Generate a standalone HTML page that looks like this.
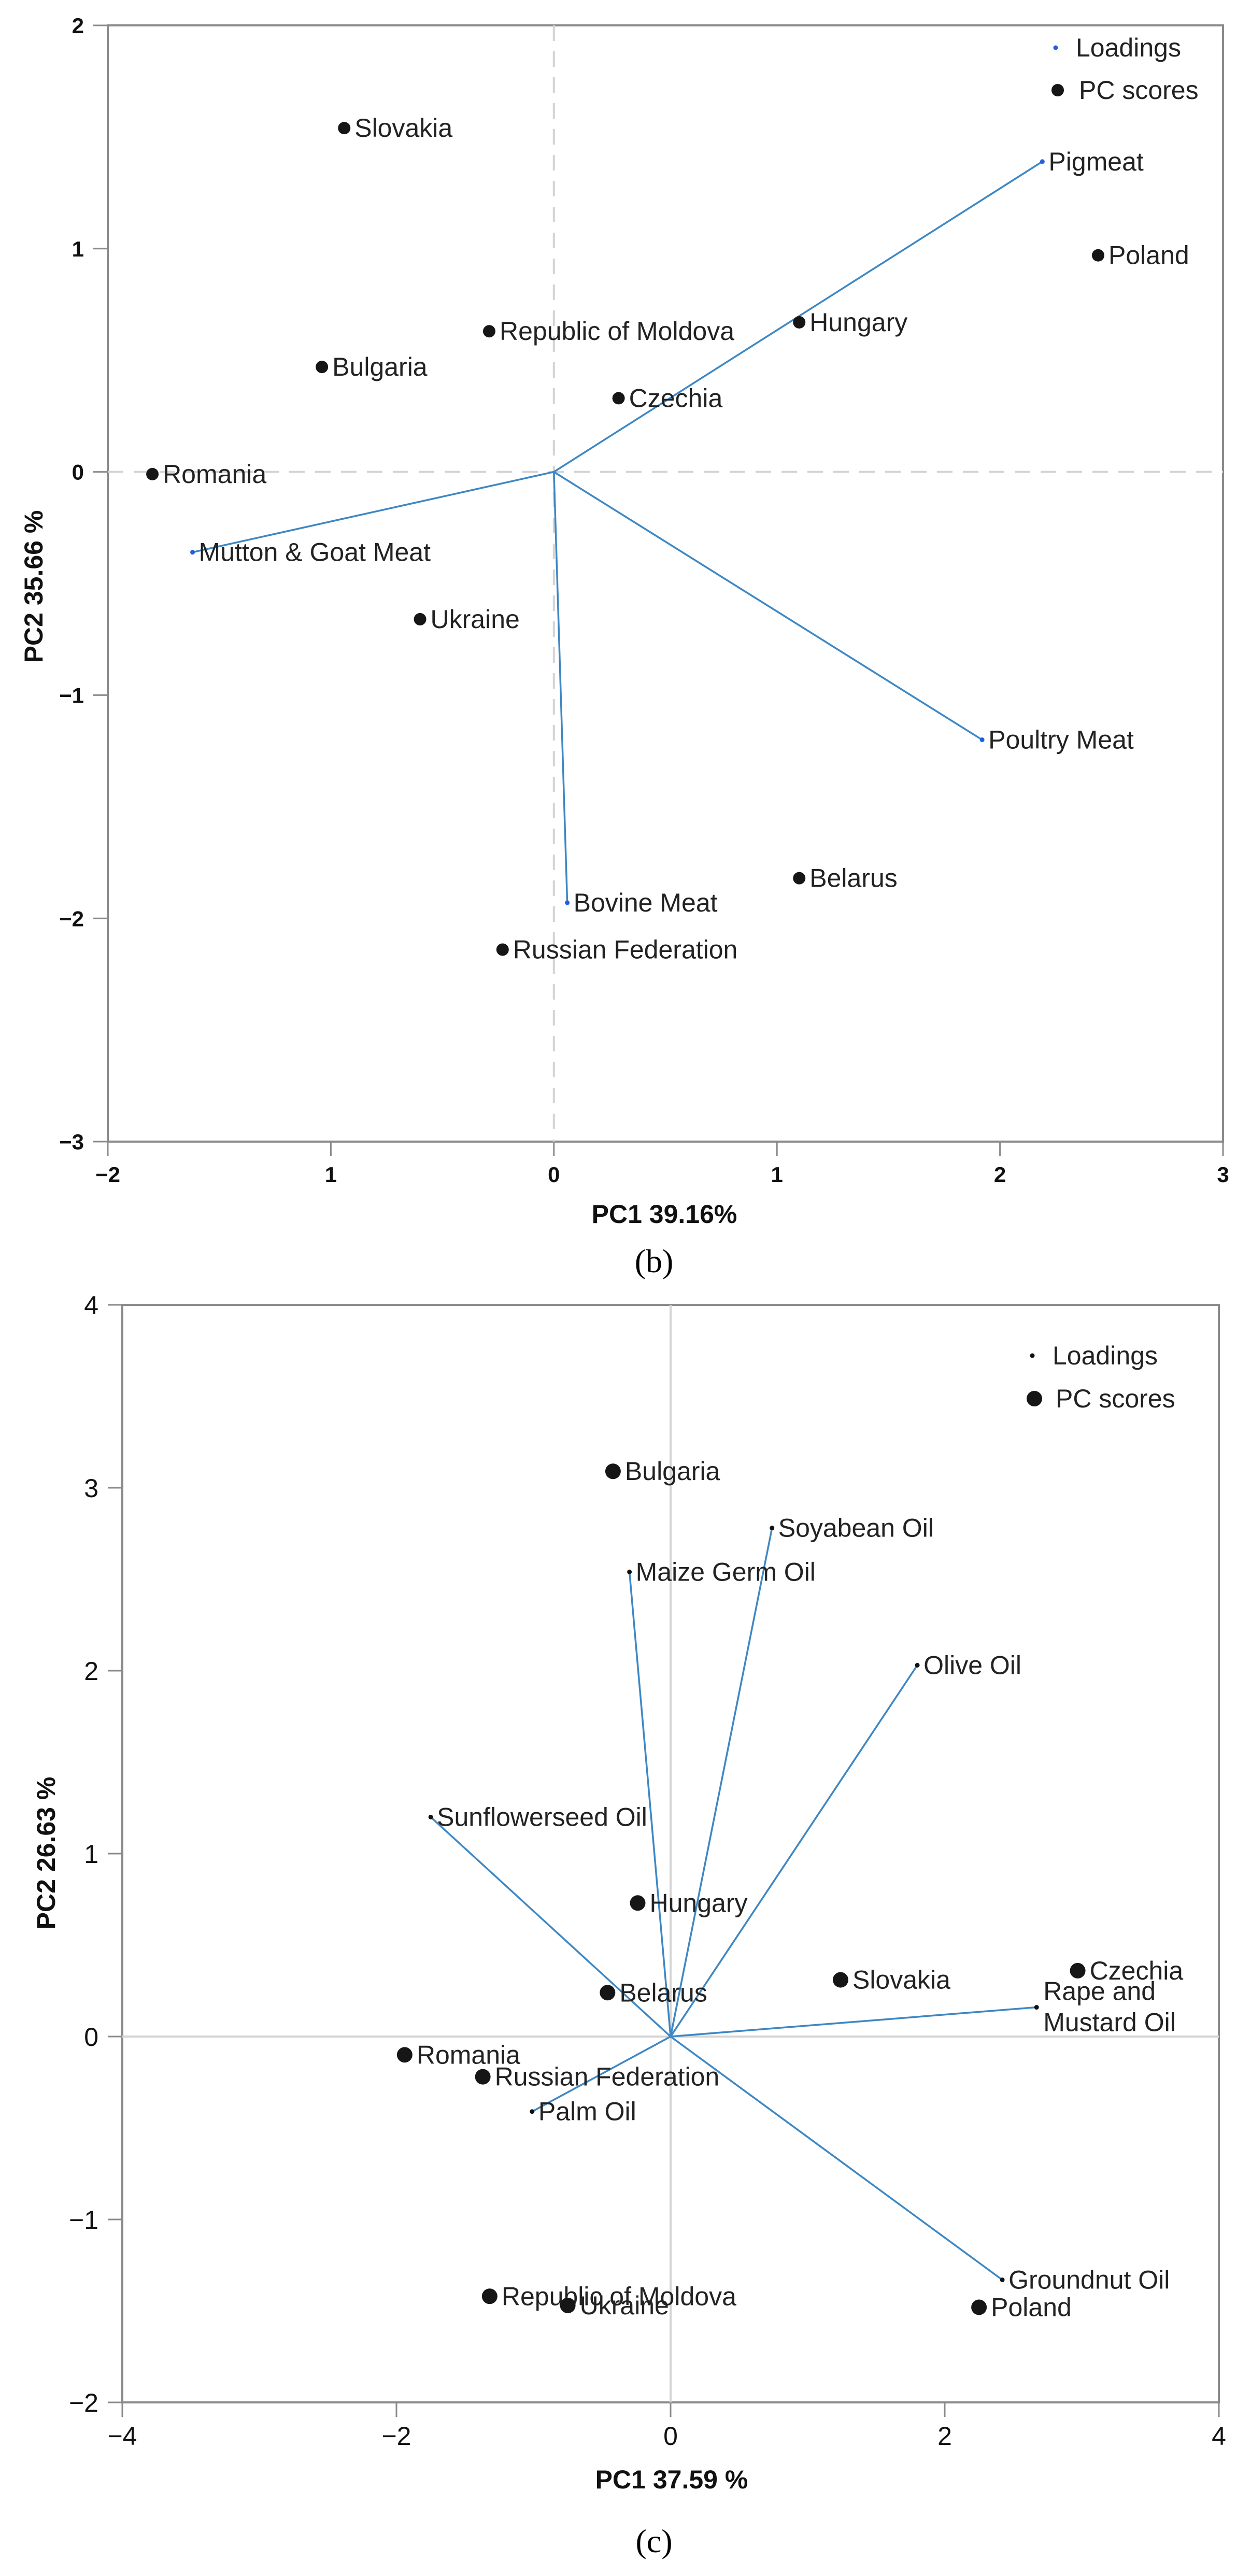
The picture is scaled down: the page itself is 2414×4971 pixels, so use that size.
<!DOCTYPE html>
<html><head><meta charset="utf-8">
<style>
html,body{margin:0;padding:0;background:#fff;}
svg{display:block;font-family:"Liberation Sans",Arial,sans-serif;}
</style></head>
<body>
<svg id="fig" width="2414" height="4971" viewBox="0 0 2414 4971" xmlns="http://www.w3.org/2000/svg">
<g id="gb"></g>
<g id="gc"></g>
</svg>
<script>
// ---------- Chart (b) data ----------
const bScoreNames = ["Slovakia","Bulgaria","Romania","Republic of Moldova","Czechia","Hungary","Poland","Ukraine","Belarus","Russian Federation"];
const bScoreX = [-0.94,-1.04,-1.80,-0.29,0.29,1.10,2.44,-0.60,1.10,-0.23];
const bScoreY = [1.54,0.47,-0.01,0.63,0.33,0.67,0.97,-0.66,-1.82,-2.14];
const bLoadNames = ["Pigmeat","Mutton & Goat Meat","Poultry Meat","Bovine Meat"];
const bLoadX = [2.19,-1.62,1.92,0.06];
const bLoadY = [1.39,-0.36,-1.20,-1.93];
const bXTicks = [-2,-1,0,1,2,3];
const bXTickLabels = ["\u22122","1","0","1","2","3"];
const bYTicks = [2,1,0,-1,-2,-3];
const bYTickLabels = ["2","1","0","\u22121","\u22122","\u22123"];

// ---------- Chart (c) data ----------
const cScoreNames = ["Bulgaria","Hungary","Belarus","Slovakia","Czechia","Romania","Russian Federation","Republic of Moldova","Ukraine","Poland"];
const cScoreX = [-0.42,-0.24,-0.46,1.24,2.97,-1.94,-1.37,-1.32,-0.75,2.25];
const cScoreY = [3.09,0.73,0.24,0.31,0.36,-0.10,-0.22,-1.42,-1.47,-1.48];
const cLoadNames = ["Soyabean Oil","Maize Germ Oil","Olive Oil","Sunflowerseed Oil","Rape and|Mustard Oil","Palm Oil","Groundnut Oil"];
const cLoadX = [0.74,-0.30,1.80,-1.75,2.67,-1.01,2.42];
const cLoadY = [2.78,2.54,2.03,1.20,0.16,-0.41,-1.33];
const cXTicks = [-4,-2,0,2,4];
const cXTickLabels = ["\u22124","\u22122","0","2","4"];
const cYTicks = [4,3,2,1,0,-1,-2];
const cYTickLabels = ["4","3","2","1","0","\u22121","\u22122"];

const NS="http://www.w3.org/2000/svg";
function mk(parent,tag,attrs,text){
  const e=document.createElementNS(NS,tag);
  for(const k in attrs) e.setAttribute(k,attrs[k]);
  if(text!==undefined) e.textContent=text;
  parent.appendChild(e); return e;
}
function slug(s){return s.toLowerCase().replace(/[^a-z0-9]+/g,'-').replace(/^-|-$/g,'');}

function drawChart(g,cfg){
  const sx=v=>cfg.L+(v-cfg.xmin)/(cfg.xmax-cfg.xmin)*(cfg.R-cfg.L);
  const sy=v=>cfg.B-(v-cfg.ymin)/(cfg.ymax-cfg.ymin)*(cfg.B-cfg.T);
  // frame
  let e;
  e=mk(g,'rect',{x:cfg.L,y:cfg.T,width:cfg.R-cfg.L,height:cfg.B-cfg.T,fill:'none',stroke:'#8a8a8a','stroke-width':4});
  
  
  // zero lines
  e=mk(g,'line',{x1:sx(0),y1:cfg.T,x2:sx(0),y2:cfg.B,stroke:'#d4d4d4','stroke-width':4,'stroke-dasharray':cfg.dash});
  
  
  e=mk(g,'line',{x1:cfg.L,y1:sy(0),x2:cfg.R,y2:sy(0),stroke:'#d4d4d4','stroke-width':4,'stroke-dasharray':cfg.dash});
  
  
  // x ticks
  cfg.xt.forEach((v,i)=>{
    const x=sx(v);
    let t=mk(g,'line',{x1:x,y1:cfg.B,x2:x,y2:cfg.B+28,stroke:'#8a8a8a','stroke-width':3});
    
    
    let l=mk(g,'text',{x:x,y:cfg.B+cfg.xlOff,'text-anchor':'middle','font-size':cfg.tfs,'font-weight':cfg.tfw,fill:'#111'},cfg.xtl[i]);
    
    
  });
  cfg.yt.forEach((v,i)=>{
    const y=sy(v);
    let t=mk(g,'line',{x1:cfg.L-28,y1:y,x2:cfg.L,y2:y,stroke:'#8a8a8a','stroke-width':3});
    
    
    let l=mk(g,'text',{x:cfg.L-cfg.ylOff,y:y+cfg.tfs*0.36,'text-anchor':'end','font-size':cfg.tfs,'font-weight':cfg.tfw,fill:'#111'},cfg.ytl[i]);
    
    
  });
  // loadings
  cfg.ln.forEach((n,i)=>{
    const x=sx(cfg.lx[i]), y=sy(cfg.ly[i]);
    let ln=mk(g,'line',{x1:sx(0),y1:sy(0),x2:x,y2:y,stroke:'#3d87c4','stroke-width':3.5});
    
    
    let d=mk(g,'circle',{cx:x,cy:y,r:4.5,fill:cfg.lcol});
    
    
    const parts=n.split('|');
    if(parts.length>1){
      let t=mk(g,'text',{x:x+13,y:y-14,'font-size':50,fill:'#222'},parts[0]);
      
      
      let t2=mk(g,'text',{x:x+13,y:y+46,'font-size':50,fill:'#222'},parts[1]);
      
      
    } else {
      let t=mk(g,'text',{x:x+12,y:y+17,'font-size':50,fill:'#222'},n);
      
      
    }
  });
  // scores
  cfg.sn.forEach((n,i)=>{
    const x=sx(cfg.sxv[i]), y=sy(cfg.syv[i]);
    let d=mk(g,'circle',{cx:x,cy:y,r:cfg.dr,fill:'#161616'});
    
    
    let t=mk(g,'text',{x:x+cfg.dr+8,y:y+17,'font-size':50,fill:'#222'},n);
    
    
  });
  // legend
  let lg=mk(g,'g',{});
  
  
  let m1=mk(lg,'circle',{cx:cfg.lgx,cy:cfg.lgy,r:4.5,fill:cfg.lcol});
  
  
  let t1=mk(lg,'text',{x:cfg.lgx+39,y:cfg.lgy+17,'font-size':50,fill:'#222'},'Loadings');
  
  
  let m2=mk(lg,'circle',{cx:cfg.lgx+4,cy:cfg.lgy+cfg.lgdy,r:cfg.dr,fill:'#161616'});
  
  
  let t2=mk(lg,'text',{x:cfg.lgx+45,y:cfg.lgy+cfg.lgdy+17,'font-size':50,fill:'#222'},'PC scores');
  
  
  // axis titles
  let xt=mk(g,'text',{x:cfg.xtX,y:cfg.xtY,'text-anchor':'middle','font-size':50,'font-weight':'bold',fill:'#111'},cfg.xTitle);
  
  
  let yt=mk(g,'text',{x:0,y:0,'text-anchor':'middle','font-size':50,'font-weight':'bold',fill:'#111',transform:'translate('+cfg.ytX+','+cfg.ytY+') rotate(-90)'},cfg.yTitle);
  
  
  let cap=mk(g,'text',{x:cfg.capX,y:cfg.capY,'text-anchor':'middle','font-size':64,fill:'#000','font-family':'"Liberation Serif",serif'},cfg.cap);
  
  
}

drawChart(document.getElementById('gb'),{
  L:208,R:2360,T:49,B:2203,xmin:-2,xmax:3,ymin:-3,ymax:2,dash:'30 20',
  xt:bXTicks,xtl:bXTickLabels,yt:bYTicks,ytl:bYTickLabels,tfs:42,tfw:'bold',xlOff:78,ylOff:46,
  ln:bLoadNames,lx:bLoadX,ly:bLoadY,sn:bScoreNames,sxv:bScoreX,syv:bScoreY,
  lcol:'#1f5fe0',dr:12,lgx:2037,lgy:92,lgdy:82,
  xTitle:'PC1 39.16%',xtX:1282,xtY:2360,yTitle:'PC2 35.66 %',ytX:82,ytY:1132,cap:'(b)',capX:1262,capY:2455
});
drawChart(document.getElementById('gc'),{
  L:236,R:2352,T:2518,B:4636,xmin:-4,xmax:4,ymin:-2,ymax:4,dash:'none',
  xt:cXTicks,xtl:cXTickLabels,yt:cYTicks,ytl:cYTickLabels,tfs:50,tfw:'normal',xlOff:82,ylOff:46,
  ln:cLoadNames,lx:cLoadX,ly:cLoadY,sn:cScoreNames,sxv:cScoreX,syv:cScoreY,
  lcol:'#111',dr:15,lgx:1992,lgy:2616,lgdy:83,
  xTitle:'PC1 37.59 %',xtX:1296,xtY:4802,yTitle:'PC2 26.63 %',ytX:106,ytY:3576,cap:'(c)',capX:1262,capY:4925
});
</script>
</body></html>
